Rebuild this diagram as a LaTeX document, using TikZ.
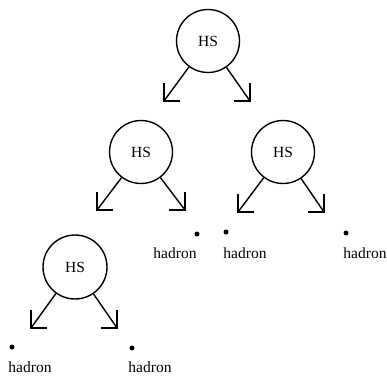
\documentclass[tikz,border=0pt]{standalone}
\usepackage{fontspec}
\setmainfont{Liberation Serif}
\begin{document}
\begin{tikzpicture}[x=1pt,y=-1pt,
  hs/.style={circle,draw,line width=1.4pt,minimum size=63pt,inner sep=0pt,font=\fontsize{15.5}{18}\selectfont},
  conn/.style={line width=1.4pt},
  barb/.style={line width=1.4pt,line join=miter},
  lbl/.style={font=\fontsize{15.5}{18}\selectfont,inner sep=0pt},
  pt/.style={circle,fill=black,inner sep=0pt,minimum size=5pt}]
\useasboundingbox (0,0) rectangle (387,376);
\node[hs] (h1) at (208,41) {HS};
\node[hs] (h2) at (141,152) {HS};
\node[hs] (h3) at (283,152) {HS};
\node[hs,minimum size=64pt] (h4) at (75,267) {HS};
\coordinate (t1l) at (164,101); \coordinate (t1r) at (250,101);
\coordinate (t2l) at (97,210);  \coordinate (t2r) at (185,210);
\coordinate (t3l) at (238,212); \coordinate (t3r) at (324,212);
\coordinate (t4l) at (31,328);  \coordinate (t4r) at (117,328);
\foreach \h/\t in {h1/t1l,h2/t2l,h3/t3l,h4/t4l}{
  \draw[conn] (\h) -- (\t);
  \draw[barb] (\t) ++(0,-18) -- (\t) -- ++(16,0);
}
\foreach \h/\t in {h1/t1r,h2/t2r,h3/t3r,h4/t4r}{
  \draw[conn] (\h) -- (\t);
  \draw[barb] (\t) ++(0,-18) -- (\t) -- ++(-16,0);
}
\node[pt] (d1) at (12,347) {};
\node[pt] (d2) at (132,348) {};
\node[pt] (d3) at (197,234) {};
\node[pt] (d4) at (226,232) {};
\node[pt] (d5) at (346,233) {};
\node[lbl] (l1) at (30,367) {hadron};
\node[lbl] (l2) at (150,367) {hadron};
\node[lbl] (l3) at (175,253) {hadron};
\node[lbl] (l4) at (245,253) {hadron};
\node[lbl] (l5) at (365,253) {hadron};
\end{tikzpicture}
\end{document}
